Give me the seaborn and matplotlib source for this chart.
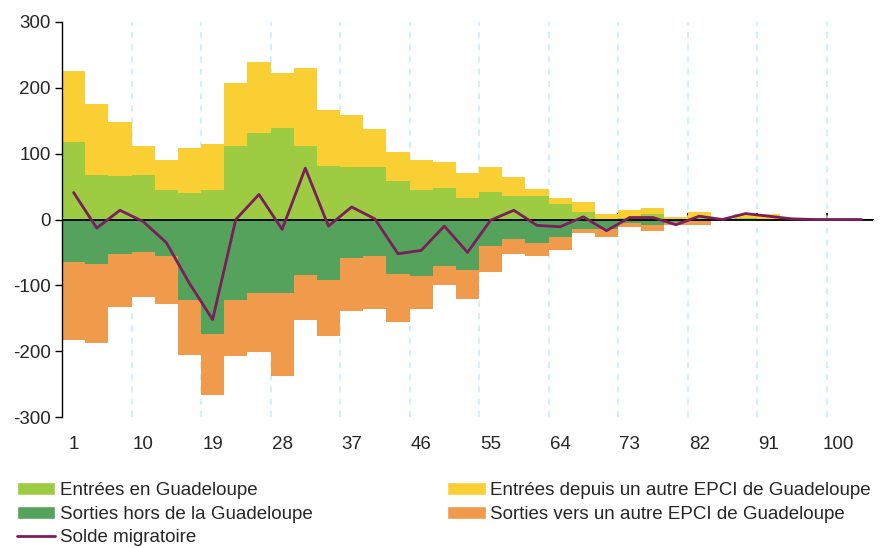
import numpy as np
import pandas as pd
import matplotlib
matplotlib.use("Agg")
import matplotlib.pyplot as plt
import seaborn as sns
from matplotlib.patches import Patch
from matplotlib.lines import Line2D

ages = [1, 4, 7, 10, 13, 16, 19, 22, 25, 28, 31, 34, 37, 40, 43, 46, 49, 52, 55,
        58, 61, 64, 67, 70, 73, 76, 79, 82, 85, 88, 91, 94, 97, 100, 103]

entrees_gp = [118, 68, 66, 68, 45, 41, 45, 112, 132, 139, 111, 82, 79, 80, 59, 45, 48, 33, 42,
              35, 35, 23, 11, 0, 3, 9, 1, 3, 0, 2, 1, 0, 0, 0, 0]
entrees_epci = [108, 108, 82, 44, 46, 68, 70, 96, 107, 84, 119, 85, 80, 58, 44, 46, 40, 37, 37,
                30, 12, 10, 15, 9, 12, 9, 3.5, 9, 0, 6, 7, 1, 0, 0, 0]
sorties_hors = [-64, -67, -53, -49, -55, -123, -174, -123, -111, -111, -85, -92, -59, -56, -83, -86, -71, -77, -41,
                -29, -36, -26, -15, -15, -6, -8, -4, -3, 0, 0, 0, 0, 0, 0, 0]
sorties_epci = [-119, -121, -80, -68, -74, -83, -93, -85, -91, -127, -68, -85, -80, -80, -72, -50, -29, -43, -39,
                -23, -20, -20, -6, -12, -6, -9, -5, -5, 0, 0, -2.5, 0, 0, 0, 0]
solde = [41, -13, 14, -3, -35, -97, -152, 0, 38, -15, 78, -10, 19, 1, -52, -47, -10, -50, -1,
         14, -9, -11, 4, -17, 3, 3, -8, 5, 0, 9, 5, 1, 0, 0, 0]

labels = {
    "gp_in": "Entrées en Guadeloupe",
    "epci_in": "Entrées depuis un autre EPCI de Guadeloupe",
    "gp_out": "Sorties hors de la Guadeloupe",
    "epci_out": "Sorties vers un autre EPCI de Guadeloupe",
    "solde": "Solde migratoire",
}
colors = {
    "gp_in": "#9DCB42",
    "epci_in": "#F9CF33",
    "gp_out": "#55A25C",
    "epci_out": "#F09A4B",
    "solde": "#7A1E5C",
}

sns.set_style("white")
plt.rcParams["font.family"] = ["Liberation Sans", "DejaVu Sans"]
plt.rcParams["axes.unicode_minus"] = False
FS = 13.5

df = pd.DataFrame({
    "age": [str(a) for a in ages],
    "gp_in": entrees_gp,
    "epci_in": entrees_epci,
    "gp_out": sorties_hors,
    "epci_out": sorties_epci,
    "solde": solde,
})

fig = plt.figure(figsize=(8.8, 5.48), dpi=100)
ax = fig.add_axes([62 / 880, 1 - 417 / 548, (873 - 62) / 880, (417 - 22) / 548])

kw = dict(x="age", width=1.0, saturation=1, errorbar=None, ax=ax, linewidth=0, zorder=2)
sns.barplot(data=df, y="gp_in", color=colors["gp_in"], **kw)
sns.barplot(data=df, y="epci_in", bottom=df["gp_in"], color=colors["epci_in"], **kw)
sns.barplot(data=df, y="gp_out", color=colors["gp_out"], **kw)
sns.barplot(data=df, y="epci_out", bottom=df["gp_out"], color=colors["epci_out"], **kw)

pos = np.arange(len(ages))
sns.lineplot(x=pos, y=df["solde"], color=colors["solde"], linewidth=2.0, ax=ax, zorder=5)

n = len(ages)
ax.set_xlim(-0.5, n - 0.5)
ax.set_ylim(-300, 300)
ax.set_yticks(np.arange(-300, 301, 100))
ax.tick_params(axis="y", labelsize=FS, length=5, width=1, color="black", direction="out", pad=3, left=True)
ax.set_xticks(pos[::3])
ax.set_xticklabels([str(a) for a in ages[::3]], fontsize=FS)
ax.tick_params(axis="x", which="major", length=0, pad=14)
bounds = np.arange(2.5, n - 1, 3)
ax.set_xticks(bounds, minor=True)
ax.tick_params(axis="x", which="minor", length=0)
ax.grid(False)
ax.grid(True, which="minor", axis="x", color="#BFEFFA", linestyle=(0, (4, 4)), linewidth=1.1)
ax.set_axisbelow(True)
ax.set_xlabel("")
ax.set_ylabel("")
for s in ["top", "right", "bottom"]:
    ax.spines[s].set_visible(False)
ax.spines["left"].set_color("black")
ax.spines["left"].set_linewidth(1.0)

ax.axhline(0, color="black", linewidth=1.3, zorder=4)
sec = ax.secondary_xaxis(0.5)
sec.set_xticks(bounds)
sec.set_xticklabels([""] * len(bounds))
sec.tick_params(axis="x", length=4, width=1.2, color="black", direction="out")
sec.spines["bottom"].set_visible(False)

handles = [
    Patch(facecolor=colors["gp_in"], label=labels["gp_in"]),
    Patch(facecolor=colors["gp_out"], label=labels["gp_out"]),
    Line2D([], [], color=colors["solde"], linewidth=2.0, label=labels["solde"]),
    Patch(facecolor=colors["epci_in"], label=labels["epci_in"]),
    Patch(facecolor=colors["epci_out"], label=labels["epci_out"]),
]
fig.legend(handles=handles, ncol=2, loc="upper left", bbox_to_anchor=(17 / 880, 1 - 482 / 548),
           frameon=False, fontsize=FS, handlelength=2.05, handleheight=0.7, handletextpad=0.22,
           labelspacing=0.34, columnspacing=7.2, borderaxespad=0, borderpad=0)

fig.savefig("out.png", dpi=100)
